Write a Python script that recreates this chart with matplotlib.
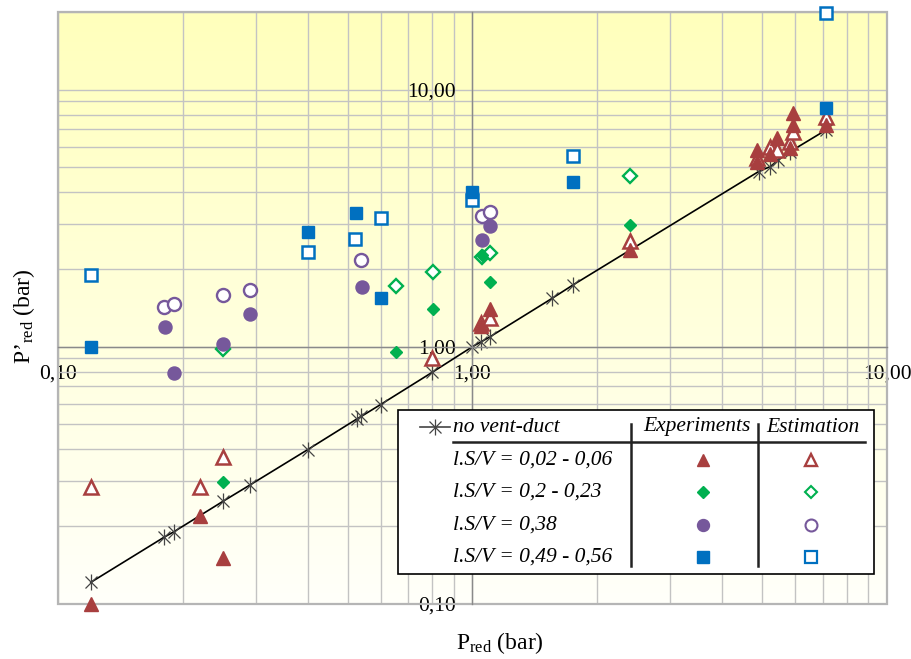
import numpy as np
import matplotlib
matplotlib.use('Agg')
import matplotlib.pyplot as plt
from matplotlib.patches import Rectangle
from matplotlib.lines import Line2D
from matplotlib.ticker import FixedLocator, FuncFormatter, LogLocator, NullFormatter

plt.rcParams['font.family'] = ['Liberation Serif', 'DejaVu Serif']
plt.rcParams['mathtext.fontset'] = 'custom'
plt.rcParams['mathtext.rm'] = 'Liberation Serif'
plt.rcParams['mathtext.it'] = 'Liberation Serif:italic'

# ---------------- data ----------------
line_label = "no vent-duct"
line_x = [0.12, 0.18, 0.19, 0.25, 0.29, 0.40, 0.526, 0.539, 0.60, 0.80, 1.0, 1.05, 1.10,
          1.555, 1.75, 4.90, 5.23, 5.47, 5.84, 7.13]
line_y = [0.121, 0.181, 0.190, 0.250, 0.289, 0.397, 0.523, 0.535, 0.595, 0.795, 1.0, 1.045, 1.09,
          1.54, 1.74, 4.80, 5.02, 5.33, 5.74, 6.97]

series_labels = ["l.S/V = 0,02 - 0,06", "l.S/V = 0,2 - 0,23", "l.S/V = 0,38", "l.S/V = 0,49 - 0,56"]
col_headers = ["Experiments", "Estimation"]

# l.S/V = 0,02 - 0,06
red_exp_x = [0.12, 0.22, 0.25, 1.05, 1.10, 2.40, 4.86, 4.86, 5.23, 5.43, 5.82, 5.92, 5.92, 7.13]
red_exp_y = [0.100, 0.220, 0.150, 1.20, 1.40, 2.38, 5.82, 5.25, 5.60, 6.47, 5.91, 8.09, 7.29, 7.29]
red_est_x = [0.12, 0.22, 0.25, 0.80, 1.05, 1.10, 2.40, 4.86, 5.23, 5.43, 5.82, 5.92, 7.13]
red_est_y = [0.284, 0.285, 0.373, 0.90, 1.24, 1.29, 2.58, 5.41, 6.00, 5.82, 6.28, 6.87, 7.85]

# l.S/V = 0,2 - 0,23
green_exp_x = [0.25, 0.653, 0.803, 1.057, 1.103, 2.40]
green_exp_y = [0.298, 0.951, 1.40, 2.27, 1.79, 2.98]
green_est_x = [0.25, 0.652, 0.802, 1.054, 1.103, 2.40]
green_est_y = [0.977, 1.72, 1.96, 2.24, 2.31, 4.62]

# l.S/V = 0,38
purple_exp_x = [0.181, 0.190, 0.25, 0.29, 0.54, 1.054, 1.103]
purple_exp_y = [1.196, 0.788, 1.02, 1.345, 1.70, 2.60, 2.96]
purple_est_x = [0.180, 0.190, 0.25, 0.29, 0.539, 1.054, 1.103]
purple_est_y = [1.43, 1.46, 1.59, 1.66, 2.18, 3.23, 3.34]

# l.S/V = 0,49 - 0,56
blue_exp_x = [0.12, 0.40, 0.523, 0.601, 1.0, 1.75, 7.13]
blue_exp_y = [1.00, 2.80, 3.30, 1.55, 3.99, 4.36, 8.51]
blue_est_x = [0.12, 0.40, 0.521, 0.601, 1.0, 1.75, 7.13]
blue_est_y = [1.90, 2.33, 2.62, 3.16, 3.72, 5.54, 19.9]

major_ticks = [0.1, 1.0, 10.0]

# ---------------- styles ----------------
RED = '#A83F3F'
GREEN = '#00B050'
PURPLE = '#76589B'
BLUE = '#0070C0'
GRID = '#C3C3C3'
FS = 15.5
FS_LAB = 17

W, H = 912, 659
fig = plt.figure(figsize=(W / 100, H / 100), dpi=100)
L, R, T, B = 58, 887, 12.3, 603.6
rect = [L / W, 1 - B / H, (R - L) / W, (B - T) / H]

# gradient background
bg = fig.add_axes(rect, zorder=0)
grad = np.linspace(0, 1, 256)
top = np.array([255, 255, 188]) / 255.0
bot = np.array([255, 255, 250]) / 255.0
img = bot[None, None, :] + (top - bot)[None, None, :] * grad[:, None, None]
bg.imshow(img, extent=[0, 1, 0, 1], origin='lower', aspect='auto')
bg.set_xlim(0, 1); bg.set_ylim(0, 1)
bg.axis('off')

ax = fig.add_axes(rect, zorder=1)
ax.patch.set_alpha(0)
ax.set_xscale('log'); ax.set_yscale('log')
ax.set_xlim(0.1, 10); ax.set_ylim(0.1, 20)

fmt = FuncFormatter(lambda v, p: f"{v:.2f}".replace('.', ','))
for axis in (ax.xaxis, ax.yaxis):
    axis.set_major_locator(FixedLocator(major_ticks))
    axis.set_minor_locator(LogLocator(base=10, subs=np.arange(2, 10)))
    axis.set_major_formatter(fmt)
    axis.set_minor_formatter(NullFormatter())
ax.tick_params(which='both', length=0, labelsize=FS)
ax.tick_params(axis='x', pad=13)
ax.tick_params(axis='y', pad=12)
ax.grid(True, which='both', color=GRID, lw=1.0)
ax.set_axisbelow(True)

ax.spines['left'].set_position(('data', 1.0))
ax.spines['bottom'].set_position(('data', 1.0))
for s in ('left', 'bottom'):
    ax.spines[s].set_color('#8A8A8A'); ax.spines[s].set_linewidth(1.0)
for s in ('top', 'right'):
    ax.spines[s].set_visible(False)
ax.add_patch(Rectangle((0, 0), 1, 1, transform=ax.transAxes, fill=False,
                       ec='#B5B5B5', lw=1.6, zorder=1.5, clip_on=False))

# no vent-duct line
ax.plot(line_x, line_y, color='black', lw=1.2, zorder=2)
ax.plot(line_x, line_y, ls='none', marker='x', ms=8.5, mew=0.9, color='#444444', zorder=2.1)
ax.plot(line_x, line_y, ls='none', marker='|', ms=11.5, mew=0.9, color='#444444', zorder=2.1)

kw = dict(ls='none', clip_on=False)
ms_tri, ms_dia, ms_cir, ms_sq = 10.0, 7.2, 9.4, 8.8
# estimations (open)
ax.plot(red_est_x, red_est_y, marker='^', ms=ms_tri, mfc='white', mec=RED, mew=1.8, zorder=3, **kw)
ax.plot(green_est_x, green_est_y, marker='D', ms=ms_dia, mfc='white', mec=GREEN, mew=1.7, zorder=3, **kw)
ax.plot(purple_est_x, purple_est_y, marker='o', ms=ms_cir, mfc='white', mec=PURPLE, mew=1.7, zorder=3, **kw)
ax.plot(blue_est_x, blue_est_y, marker='s', ms=ms_sq, mfc='white', mec=BLUE, mew=1.8, zorder=3, **kw)
# experiments (filled)
ax.plot(red_exp_x, red_exp_y, marker='^', ms=ms_tri, color=RED, mec=RED, zorder=4, **kw)
ax.plot(green_exp_x, green_exp_y, marker='D', ms=ms_dia - 0.6, color=GREEN, zorder=4, **kw)
ax.plot(purple_exp_x, purple_exp_y, marker='o', ms=ms_cir, color=PURPLE, zorder=4, **kw)
ax.plot(blue_exp_x, blue_exp_y, marker='s', ms=ms_sq, color=BLUE, zorder=4, **kw)

# axis labels
fig.text(500 / W, 1 - 643 / H, r"P$_{\mathrm{red}}$ (bar)", ha='center', va='center', fontsize=FS_LAB)
fig.text(24 / W, 1 - 316 / H, r"P’$_{\mathrm{red}}$ (bar)", ha='center', va='center',
         fontsize=FS_LAB, rotation=90)

# ---------------- table-style legend ----------------
lg = fig.add_axes([0, 0, 1, 1], zorder=5)
lg.set_xlim(0, W); lg.set_ylim(H, 0); lg.axis('off'); lg.patch.set_alpha(0)
lg.add_patch(Rectangle((398, 410), 476, 164, fc='white', ec='black', lw=1.2))
lg.add_line(Line2D([420, 450], [427, 427], color='#444444', lw=1.2))
lg.plot([435], [427], marker='x', ms=8.5, mew=0.9, color='#444444')
lg.plot([435], [427], marker='|', ms=11.5, mew=0.9, color='#444444')
lg.text(453, 427, line_label, ha='left', va='center', fontsize=FS, style='italic')
lg.text(697, 427, col_headers[0], ha='center', va='center', fontsize=FS, style='italic')
lg.text(813, 427, col_headers[1], ha='center', va='center', fontsize=FS, style='italic')
lg.add_line(Line2D([453, 865], [442, 442], color='#222222', lw=1.8))
lg.add_line(Line2D([631, 631], [424, 566], color='#222222', lw=1.8))
lg.add_line(Line2D([758, 758], [424, 566], color='#222222', lw=1.8))
rows_y = [460, 492, 525, 557]
specs = [('^', RED, 9.0, 1.7), ('D', GREEN, 6.4, 1.5),
         ('o', PURPLE, 8.6, 1.5), ('s', BLUE, 8.2, 1.6)]
for lab, yy, (m, c, ms, mew) in zip(series_labels, rows_y, specs):
    lg.text(453, yy, lab, ha='left', va='center', fontsize=FS, style='italic')
    lg.plot([703], [yy], marker=m, ms=ms, color=c, ls='none')
    lg.plot([811], [yy], marker=m, ms=ms, mfc='white', mec=c, mew=mew, ls='none')

fig.savefig('out.png', dpi=100)
